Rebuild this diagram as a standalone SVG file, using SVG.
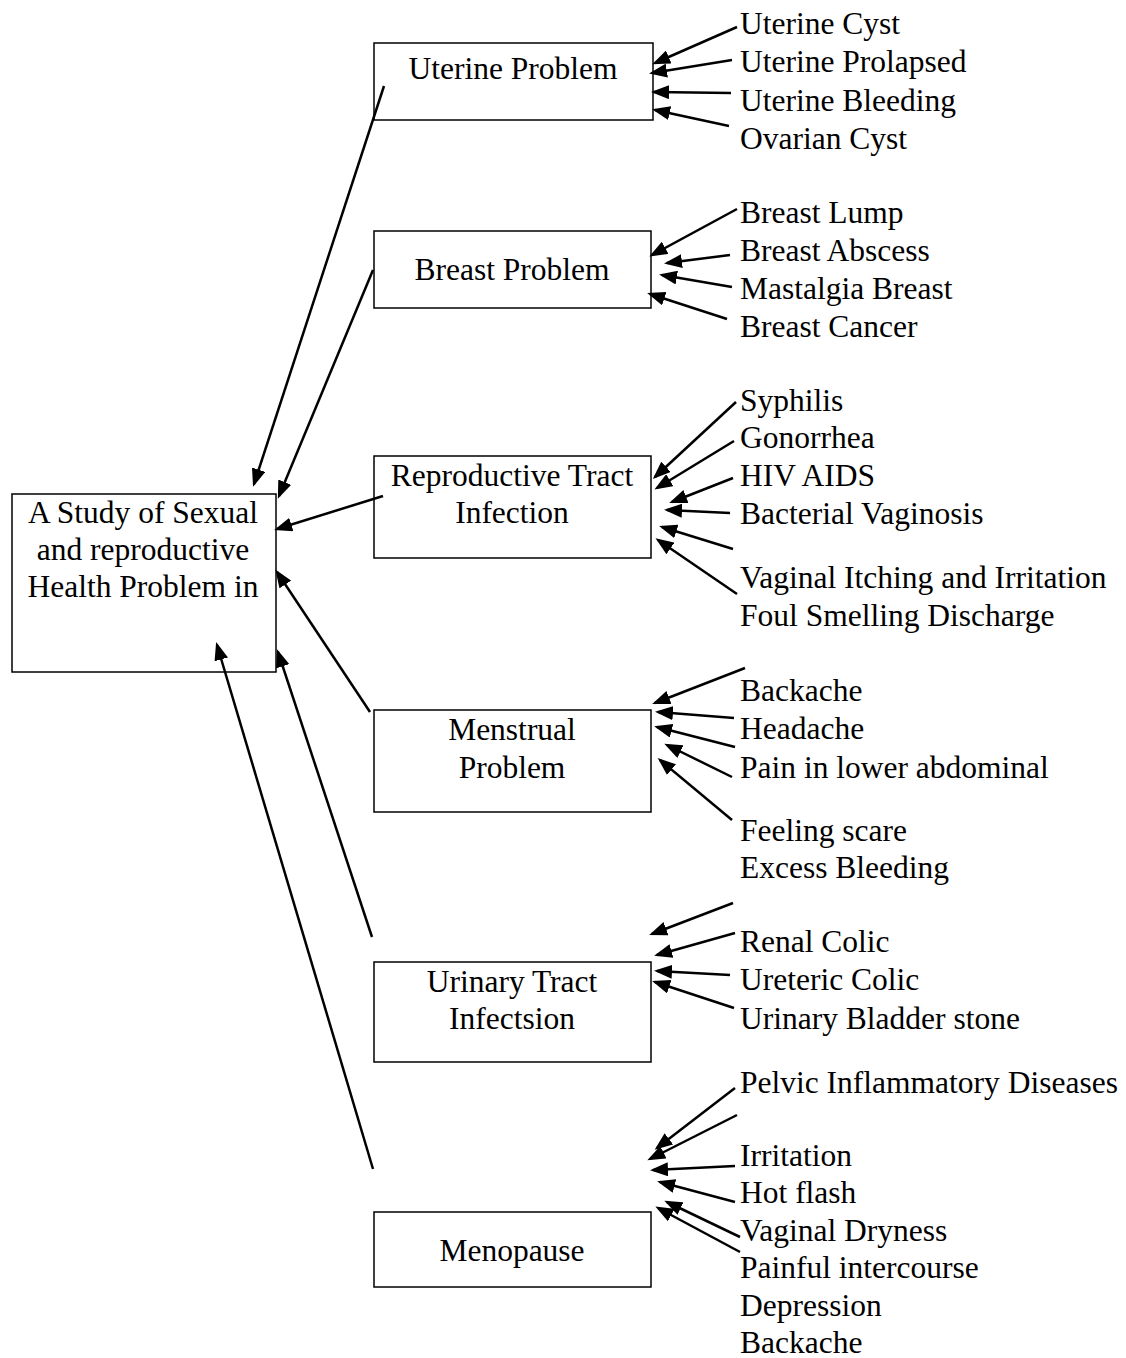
<svg xmlns="http://www.w3.org/2000/svg" width="1126" height="1358" viewBox="0 0 1126 1358">
<style>
text{font-family:"Liberation Serif","Times New Roman",serif;font-size:31.5px;fill:#000}
.c{text-anchor:middle}
.box{fill:#fff;stroke:#000;stroke-width:1.5}
.ar{stroke:#000;stroke-width:2.5;fill:none;marker-end:url(#ah)}
</style>
<defs>
<marker id="ah" markerUnits="userSpaceOnUse" markerWidth="18" markerHeight="14" viewBox="0 0 18 14" refX="15" refY="7" orient="auto">
<path d="M0,0 L18,7 L0,14 z" fill="#000"/>
</marker>
</defs>
<rect width="1126" height="1358" fill="#fff"/>

<g id="main">
<rect class="box" x="12" y="494" width="264" height="178"/>
<text class="c" x="143" y="523">A Study of Sexual</text>
<text class="c" x="143" y="560">and reproductive</text>
<text class="c" x="143" y="597">Health Problem in</text>
</g>

<g id="uterine">
<rect class="box" x="374" y="43" width="279" height="77"/>
<text class="c" x="513" y="79">Uterine Problem</text>
</g>
<g id="breast">
<rect class="box" x="374" y="231" width="277" height="77"/>
<text class="c" x="512" y="280">Breast Problem</text>
</g>
<g id="rti">
<rect class="box" x="374" y="456" width="277" height="102"/>
<text class="c" x="512" y="486">Reproductive Tract</text>
<text class="c" x="512" y="523">Infection</text>
</g>
<g id="menstrual">
<rect class="box" x="374" y="710" width="277" height="102"/>
<text class="c" x="512" y="740">Menstrual</text>
<text class="c" x="512" y="778">Problem</text>
</g>
<g id="urinary">
<rect class="box" x="374" y="962" width="277" height="100"/>
<text class="c" x="512" y="992">Urinary Tract</text>
<text class="c" x="512" y="1029">Infectsion</text>
</g>
<g id="menopause">
<rect class="box" x="374" y="1212" width="277" height="75"/>
<text class="c" x="512" y="1261">Menopause</text>
</g>

<g id="labels">
<text x="740" y="34">Uterine Cyst</text>
<text x="740" y="72">Uterine Prolapsed</text>
<text x="740" y="111">Uterine Bleeding</text>
<text x="740" y="149">Ovarian Cyst</text>
<text x="740" y="223">Breast Lump</text>
<text x="740" y="261">Breast Abscess</text>
<text x="740" y="299">Mastalgia Breast</text>
<text x="740" y="337">Breast Cancer</text>
<text x="740" y="411">Syphilis</text>
<text x="740" y="448">Gonorrhea</text>
<text x="740" y="486">HIV AIDS</text>
<text x="740" y="524">Bacterial Vaginosis</text>
<text x="740" y="588">Vaginal Itching and Irritation</text>
<text x="740" y="626">Foul Smelling Discharge</text>
<text x="740" y="701">Backache</text>
<text x="740" y="739">Headache</text>
<text x="740" y="778">Pain in lower abdominal</text>
<text x="740" y="841">Feeling scare</text>
<text x="740" y="878">Excess Bleeding</text>
<text x="740" y="952">Renal Colic</text>
<text x="740" y="990">Ureteric Colic</text>
<text x="740" y="1029">Urinary Bladder stone</text>
<text x="740" y="1093">Pelvic Inflammatory Diseases</text>
<text x="740" y="1166">Irritation</text>
<text x="740" y="1203">Hot flash</text>
<text x="740" y="1241">Vaginal Dryness</text>
<text x="740" y="1278">Painful intercourse</text>
<text x="740" y="1316">Depression</text>
<text x="740" y="1353">Backache</text>
</g>

<g id="connectors">
<line class="ar" x1="384" y1="86" x2="254" y2="484"/>
<line class="ar" x1="373" y1="270" x2="279" y2="496"/>
<line class="ar" x1="383" y1="496" x2="277" y2="529"/>
<line class="ar" x1="370" y1="712" x2="277" y2="572"/>
<line class="ar" x1="372" y1="937" x2="278" y2="652"/>
<line class="ar" x1="373" y1="1169" x2="217" y2="645"/>

<line class="ar" x1="737" y1="27" x2="655" y2="63"/>
<line class="ar" x1="732" y1="60" x2="652" y2="73"/>
<line class="ar" x1="731" y1="93" x2="654" y2="92"/>
<line class="ar" x1="729" y1="126" x2="655" y2="110"/>

<line class="ar" x1="737" y1="209" x2="652" y2="255"/>
<line class="ar" x1="730" y1="255" x2="667" y2="263"/>
<line class="ar" x1="732" y1="287" x2="662" y2="275"/>
<line class="ar" x1="727" y1="319" x2="650" y2="294"/>

<line class="ar" x1="736" y1="402" x2="655" y2="477"/>
<line class="ar" x1="734" y1="441" x2="657" y2="488"/>
<line class="ar" x1="733" y1="478" x2="672" y2="502"/>
<line class="ar" x1="730" y1="513" x2="667" y2="510"/>
<line class="ar" x1="733" y1="549" x2="662" y2="527"/>
<line class="ar" x1="737" y1="594" x2="658" y2="540"/>

<line class="ar" x1="745" y1="668" x2="655" y2="703"/>
<line class="ar" x1="734" y1="718" x2="658" y2="712"/>
<line class="ar" x1="735" y1="747" x2="657" y2="727"/>
<line class="ar" x1="732" y1="777" x2="667" y2="745"/>
<line class="ar" x1="732" y1="820" x2="660" y2="760"/>

<line class="ar" x1="733" y1="903" x2="652" y2="934"/>
<line class="ar" x1="735" y1="933" x2="657" y2="955"/>
<line class="ar" x1="730" y1="975" x2="657" y2="971"/>
<line class="ar" x1="734" y1="1008" x2="655" y2="982"/>

<line class="ar" x1="735" y1="1088" x2="657" y2="1148"/>
<line class="ar" x1="737" y1="1115" x2="650" y2="1159"/>
<line class="ar" x1="735" y1="1166" x2="653" y2="1170"/>
<line class="ar" x1="735" y1="1202" x2="660" y2="1182"/>
<line class="ar" x1="740" y1="1237" x2="667" y2="1202"/>
<line class="ar" x1="740" y1="1252" x2="658" y2="1208"/>
</g>
</svg>
